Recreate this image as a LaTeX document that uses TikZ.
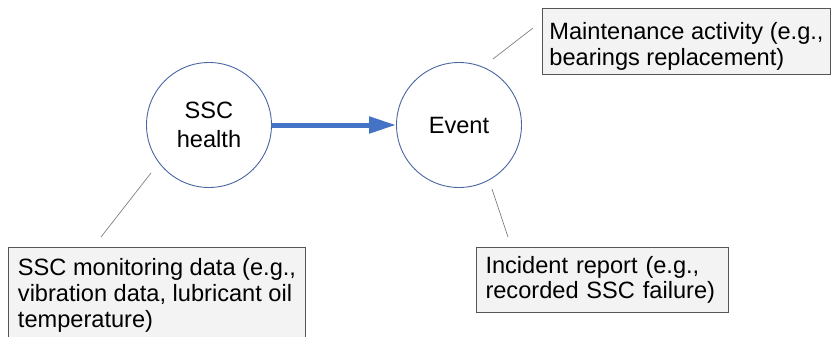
\documentclass[tikz,border=0pt]{standalone}
\usepackage{fontspec}
\setmainfont{Liberation Sans}
\usetikzlibrary{arrows.meta, positioning}
\definecolor{circblue}{HTML}{4A67A1}
\definecolor{arrblue}{HTML}{4472C4}
\definecolor{boxfill}{HTML}{F3F3F3}
\definecolor{boxline}{HTML}{555555}
\tikzset{
  state/.style={circle, draw=circblue, line width=0.9pt, minimum size=125pt, inner sep=0pt, align=center, font=\fontsize{23.6}{29}\selectfont},
  notebox/.style={rectangle, draw=boxline, fill=boxfill, line width=1pt, anchor=north west, align=left, inner xsep=0pt, font=\fontsize{23.6}{25.7}\selectfont},
  leader/.style={draw=gray, line width=0.7pt}
}

\begin{document}
\begin{tikzpicture}[x=1pt, y=-1pt]
	\useasboundingbox (0,0) rectangle (833,337);
	\clip (0,0) rectangle (833,337);
	
	\node[state] (ssc) at (209,125) {SSC\\health};
	\node[state] (ev) at (459,125) {Event};
	\draw[-{Triangle[length=27pt,width=16pt]}, line width=5pt, arrblue] (ssc) -- (ev);
	
	\node[notebox, minimum width=288pt, minimum height=66pt] (maint) at (542,8) {\rule{0pt}{27pt}Maintenance activity (e.g.,\\bearings replacement)};
	\node[notebox, minimum width=297pt, minimum height=96pt] (mon) at (8,247) {SSC monitoring data (e.g.,\\vibration data, lubricant oil\\temperature)};
	\node[notebox, text width=234pt, inner xsep=9pt, minimum height=65pt] (inc) at (476,247) {Incident report (e.g.,\\recorded SSC failure)};
	
	\coordinate (m1) at (493,59);
	\coordinate (m2) at (533,28);
	\coordinate (s1) at (151,173);
	\coordinate (s2) at (101,237);
	\coordinate (i1) at (492,189);
	\coordinate (i2) at (508,237);
	
	\draw[leader] (m1) -- (m2);
	\draw[leader] (s1) -- (s2);
	\draw[leader] (i1) -- (i2);
\end{tikzpicture}
\end{document}
